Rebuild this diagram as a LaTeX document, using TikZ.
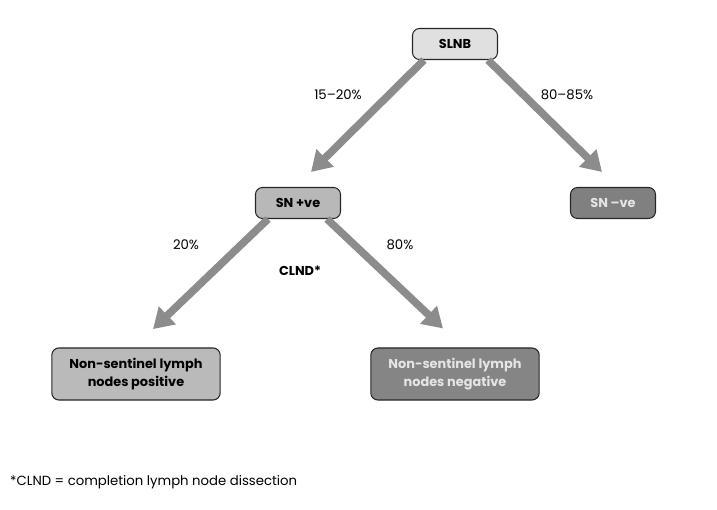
\documentclass[tikz,border=0pt]{standalone}
\usepackage{fontspec}
\setmainfont{Poppins}
\usetikzlibrary{arrows.meta}
\tikzset{
  box/.style={draw=black!85,line width=0.9pt,rounded corners=6pt,align=center,
    font=\fontsize{11}{15}\selectfont\bfseries,inner sep=2pt},
  smallbox/.style={box,minimum width=2.55cm,minimum height=0.93cm},
  bigbox/.style={box,minimum width=5.05cm,minimum height=1.56cm},
  flow/.style={draw=black!45,line width=6.5pt,-{Triangle[width=20pt,length=17pt]}},
  lbl/.style={font=\fontsize{11.3}{13}\selectfont}
}
\begin{document}
\begin{tikzpicture}[x=0.03cm,y=-0.03cm]
          \useasboundingbox (0,0) rectangle (717,510);
          \node[smallbox,fill=black!12] (slnb) at (455,44) {SLNB};
          \node[smallbox,fill=black!28] (snpos) at (298,203) {SN +ve};
          \node[smallbox,fill=black!50,text=black!10] (snneg) at (613,203) {SN --ve};
          \node[bigbox,fill=black!27] (nspos) at (136,374) {Non-sentinel lymph\\nodes positive};
          \node[bigbox,fill=black!48,text=black!10] (nsneg) at (455,374) {Non-sentinel lymph\\nodes negative};
          % Arrows
          \draw[flow] ([xshift=0.36cm]slnb.south west) -- ([xshift=0.39cm,yshift=0.45cm]snpos.north);
          \draw[flow] ([xshift=-0.3cm]slnb.south east) -- ([xshift=-0.33cm,yshift=0.45cm]snneg.north);
          \draw[flow] ([xshift=0.39cm]snpos.south west) -- ([xshift=0.51cm,yshift=0.55cm]nspos.north);
          \draw[flow] ([xshift=-0.42cm]snpos.south east) -- ([xshift=-0.36cm,yshift=0.57cm]nsneg.north);
          % Labels
          \node[lbl] (p1) at (338,95) {15--20\%};
          \node[lbl] (p2) at (567,95) {80--85\%};
          \node[lbl] (p3) at (186,245) {20\%};
          \node[lbl] (p4) at (400,245) {80\%};
          \node[lbl,font=\fontsize{11}{13}\selectfont\bfseries] (clnd) at (300,271) {CLND*};
          \node[lbl,anchor=west] (note) at (6,482) {*CLND = completion lymph node dissection};
        \end{tikzpicture}
\end{document}
